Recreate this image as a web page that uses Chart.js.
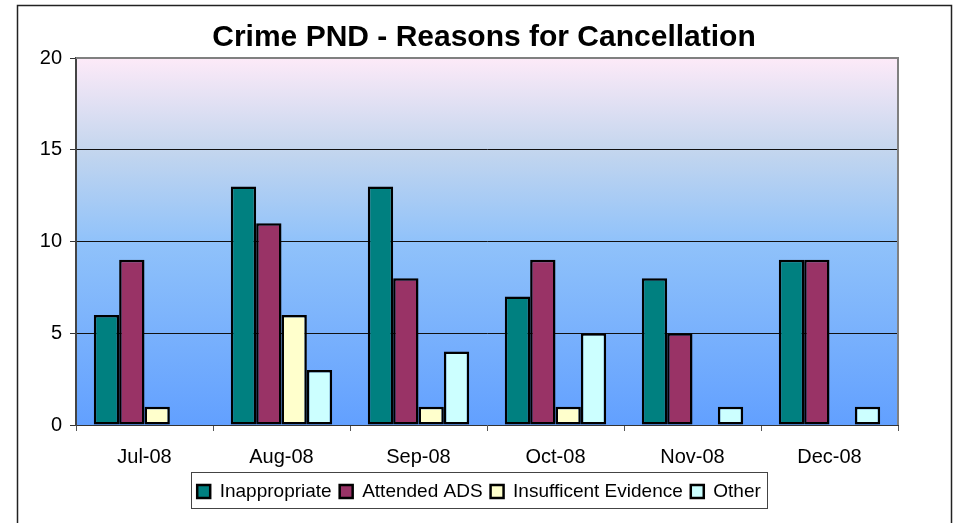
<!DOCTYPE html>
<html>
<head>
<meta charset="utf-8">
<script src="https://cdn.jsdelivr.net/npm/chart.js@4/dist/chart.umd.min.js"></script>
<style>
  body { margin: 0; background: #fff; }
  #wrap { width: 955px; height: 523px; }
</style>
</head>
<body>
<div id="wrap"><canvas id="grafico"></canvas></div>
<script>
const months = ['Jul-08', 'Aug-08', 'Sep-08', 'Oct-08', 'Nov-08', 'Dec-08'];
const inappropriate = [6, 13, 13, 7, 8, 9];
const attendedADS = [9, 11, 8, 9, 5, 9];
const insufficentEvidence = [1, 6, 1, 1, 0, 0];
const other = [0, 3, 4, 5, 1, 1];
const yTicks = [0, 5, 10, 15, 20];

const FONT = '"Liberation Sans", Arial, sans-serif';

// background gradient, plot border, outer frame, title, legend box
const decor = {
    id: 'decor',
    afterLayout(chart) {
        // nudge legend to sit where the original one does
        chart.legend.left -= 8;
        chart.legend.right -= 8;
    },
    beforeDraw(chart) {
        const { ctx, chartArea: a } = chart;
        const g = ctx.createLinearGradient(0, a.top, 0, a.bottom);
        g.addColorStop(0, '#fdeaf8');
        g.addColorStop(0.25, '#c4d6ee');
        g.addColorStop(0.5, '#90c2fa');
        g.addColorStop(1, '#62a0ff');
        ctx.save();
        ctx.fillStyle = g;
        ctx.fillRect(a.left, a.top, a.right - a.left, a.bottom - a.top);
        ctx.restore();
    },
    afterDatasetsDraw(chart) {
        const { ctx, chartArea: a } = chart;
        ctx.save();
        ctx.strokeStyle = '#808080';
        ctx.lineWidth = 2;
        ctx.beginPath();
        ctx.moveTo(a.left, a.top);
        ctx.lineTo(a.right, a.top);
        ctx.lineTo(a.right, a.bottom);
        ctx.stroke();
        ctx.restore();
    },
    afterDraw(chart) {
        const ctx = chart.ctx;
        ctx.save();
        ctx.strokeStyle = '#222';
        ctx.lineWidth = 1.5;
        ctx.strokeRect(17.5, 5.5, 934, 520);
        ctx.fillStyle = '#000';
        ctx.font = 'bold 30px ' + FONT;
        ctx.textAlign = 'center';
        ctx.textBaseline = 'alphabetic';
        ctx.fillText('Crime PND - Reasons for Cancellation', 484, 46);
        const hb = chart.legend.legendHitBoxes;
        if (hb && hb.length) {
            const l = hb[0].left - 6;
            const r = hb[hb.length - 1].left + hb[hb.length - 1].width + 6;
            ctx.strokeStyle = '#444';
            ctx.lineWidth = 1;
            ctx.strokeRect(Math.round(l) + 0.5, 472.5, Math.round(r - l), 36);
        }
        ctx.restore();
    }
};

const ds = (label, data, color) => ({
    label, data,
    backgroundColor: color,
    borderColor: '#000',
    borderWidth: 2.5,
    borderSkipped: false,
    categoryPercentage: 0.74,
    barPercentage: 1
});

new Chart(document.getElementById('grafico').getContext('2d'), {
    type: 'bar',
    data: {
        labels: months,
        datasets: [
            ds('Inappropriate', inappropriate, '#008080'),
            ds('Attended ADS', attendedADS, '#993366'),
            ds('Insufficent Evidence', insufficentEvidence, '#ffffcc'),
            ds('Other', other, '#ccffff')
        ]
    },
    plugins: [decor],
    options: {
        responsive: true,
        maintainAspectRatio: false,
        animation: false,
        layout: { padding: { left: 17, right: 57, top: 58, bottom: 12 } },
        plugins: {
            title: { display: false },
            tooltip: { enabled: false },
            legend: {
                position: 'bottom',
                fullSize: false,
                labels: {
                    color: '#000',
                    font: { family: FONT, size: 19 },
                    boxWidth: 13,
                    boxHeight: 13,
                    padding: 8,
                    useBorderRadius: false
                }
            }
        },
        scales: {
            x: {
                grid: {
                    offset: true,
                    drawOnChartArea: false,
                    drawTicks: true,
                    tickLength: 6,
                    tickColor: '#555'
                },
                border: { color: '#333', width: 1 },
                ticks: { color: '#000', font: { family: FONT, size: 20 }, padding: 14 },
                afterFit(scale) { scale.height = 49; }
            },
            y: {
                min: 0,
                max: 20,
                afterBuildTicks(scale) { scale.ticks = yTicks.map(v => ({ value: v })); },
                grid: {
                    color: c => (c.tick && (c.tick.value === 0 || c.tick.value === 20)) ? 'rgba(0,0,0,0)' : '#111',
                    tickColor: '#333',
                    tickLength: 6,
                    lineWidth: 1
                },
                border: { color: '#444', width: 2 },
                ticks: { color: '#000', font: { family: FONT, size: 20 }, padding: 8 },
                afterFit(scale) { scale.width = 59; }
            }
        }
    }
});
</script>
</body>
</html>
